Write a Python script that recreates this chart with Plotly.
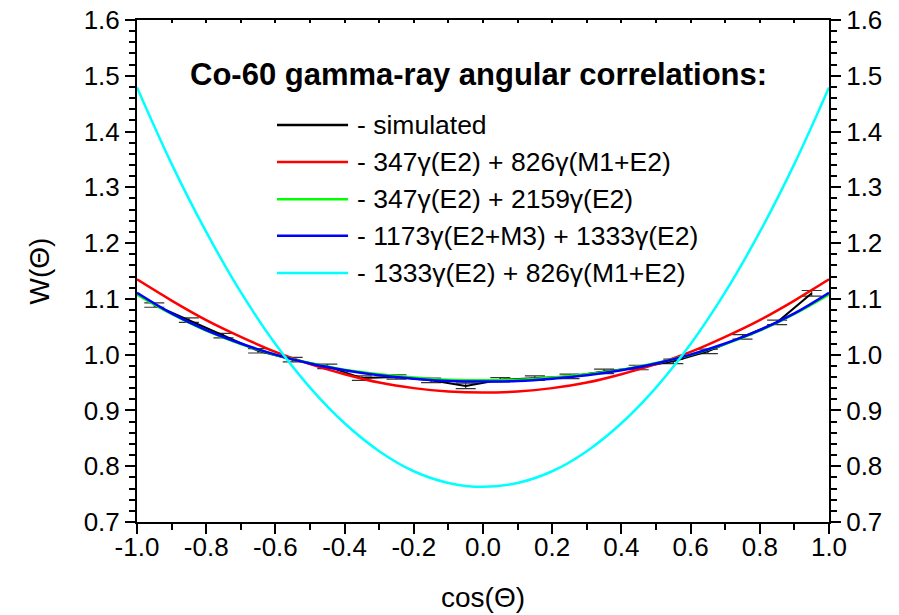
import plotly.graph_objects as go

# ---- data ----
sim_x = [-0.95, -0.85, -0.75, -0.65, -0.55, -0.45, -0.35, -0.25, -0.15, -0.05,
         0.05, 0.15, 0.25, 0.35, 0.45, 0.55, 0.65, 0.75, 0.85, 0.95]
sim_y = [1.089, 1.062, 1.034, 1.007, 0.991, 0.979, 0.958, 0.960, 0.954, 0.944,
         0.955, 0.958, 0.961, 0.970, 0.977, 0.988, 1.006, 1.032, 1.058, 1.110]
sim_err = [0.004, 0.004, 0.004, 0.004, 0.004, 0.004, 0.004, 0.004, 0.004, 0.005,
           0.004, 0.004, 0.004, 0.004, 0.004, 0.004, 0.004, 0.004, 0.004, 0.005]

curve_x = [-1.0, -0.9, -0.8, -0.7, -0.6, -0.5, -0.4, -0.3, -0.2, -0.1, 0.0,
           0.1, 0.2, 0.3, 0.4, 0.5, 0.6, 0.7, 0.8, 0.9, 1.0]
red_y = [1.135, 1.097, 1.062, 1.032, 1.005, 0.983, 0.965, 0.950, 0.940, 0.934, 0.932,
         0.934, 0.940, 0.950, 0.965, 0.983, 1.005, 1.032, 1.062, 1.097, 1.135]
green_y = [1.108, 1.073, 1.043, 1.019, 1.000, 0.985, 0.973, 0.965, 0.959, 0.955, 0.954,
           0.955, 0.959, 0.965, 0.973, 0.985, 1.000, 1.019, 1.043, 1.073, 1.108]
blue_y = [1.111, 1.074, 1.044, 1.020, 1.000, 0.984, 0.972, 0.963, 0.957, 0.953, 0.952,
          0.953, 0.957, 0.963, 0.972, 0.984, 1.000, 1.020, 1.044, 1.074, 1.111]
cyan_y = [1.479, 1.342, 1.220, 1.112, 1.019, 0.941, 0.877, 0.827, 0.791, 0.770, 0.763,
          0.770, 0.791, 0.827, 0.877, 0.941, 1.019, 1.112, 1.220, 1.342, 1.479]

legend_labels = ["- simulated",
                 "- 347\u03b3(E2) + 826\u03b3(M1+E2)",
                 "- 347\u03b3(E2) + 2159\u03b3(E2)",
                 "- 1173\u03b3(E2+M3) + 1333\u03b3(E2)",
                 "- 1333\u03b3(E2) + 826\u03b3(M1+E2)"]
legend_colors = ["#000000", "#ff0000", "#00ff00", "#0000ff", "#00ffff"]

x_tickvals = [-1.0, -0.8, -0.6, -0.4, -0.2, 0.0, 0.2, 0.4, 0.6, 0.8, 1.0]
x_ticktext = ["-1.0", "-0.8", "-0.6", "-0.4", "-0.2", "0.0", "0.2", "0.4", "0.6", "0.8", "1.0"]
y_tickvals = [0.7, 0.8, 0.9, 1.0, 1.1, 1.2, 1.3, 1.4, 1.5, 1.6]
y_ticktext = ["0.7", "0.8", "0.9", "1.0", "1.1", "1.2", "1.3", "1.4", "1.5", "1.6"]

FONT = "Liberation Sans, Arial, sans-serif"

fig = go.Figure()

fig.add_trace(go.Scatter(x=sim_x, y=sim_y, mode="lines",
                         line=dict(color="black", width=2),
                         error_y=dict(type="data", array=sim_err, visible=True,
                                      color="#333333", thickness=1.2, width=10),
                         showlegend=False))
for yv, col in [(red_y, "#ff0000"), (green_y, "#00ff00"), (blue_y, "#0000ff"), (cyan_y, "#00ffff")]:
    fig.add_trace(go.Scatter(x=curve_x, y=yv, mode="lines",
                             line=dict(color=col, width=2.5, shape="spline"),
                             showlegend=False))

# invisible trace for secondary axes
fig.add_trace(go.Scatter(x=[None], y=[None], xaxis="x2", yaxis="y2", showlegend=False))

axis_common = dict(showline=True, linecolor="black", linewidth=2, mirror=False,
                   showgrid=False, zeroline=False, automargin=False)

TICK = 26

fig.update_layout(
    width=899, height=615,
    margin=dict(l=137, r=70, t=20, b=93),
    paper_bgcolor="white", plot_bgcolor="white",
    font=dict(family=FONT, size=TICK, color="black"),
    xaxis=dict(range=[-1, 1], tickvals=x_tickvals, ticktext=x_ticktext,
               ticks="outside", ticklen=10, tickwidth=2, tickcolor="black",
               minor=dict(dtick=0.1, ticks="outside", ticklen=6, tickwidth=2, tickcolor="black"),
               ticklabelstandoff=-9,
               title=dict(text="cos(\u0398)", font=dict(size=28), standoff=26),
               tickfont=dict(size=TICK), **axis_common),
    xaxis2=dict(range=[-1, 1], overlaying="x", side="top", tickvals=[-0.9 + 0.1 * i for i in range(19)],
                showticklabels=False, ticks="inside", ticklen=3, tickwidth=2, tickcolor="black",
                **axis_common),
    yaxis=dict(range=[0.7, 1.6], tickvals=y_tickvals, ticktext=y_ticktext,
               ticks="outside", ticklen=10, tickwidth=2, tickcolor="black",
               minor=dict(dtick=0.02, ticks="outside", ticklen=6, tickwidth=2, tickcolor="black"),
               title=dict(text="W(\u0398)", font=dict(size=28), standoff=26),
               tickfont=dict(size=TICK), **axis_common),
    yaxis2=dict(range=[0.7, 1.6], overlaying="y", side="right", anchor="x",
                tickvals=y_tickvals, ticktext=y_ticktext,
                ticks="outside", ticklen=10, tickwidth=2, tickcolor="black",
                minor=dict(dtick=0.02, ticks="outside", ticklen=6, tickwidth=2, tickcolor="black"),
                tickfont=dict(size=TICK), **axis_common),
)

# title annotation
fig.add_annotation(x=0.493, y=0.892, xref="paper", yref="paper", showarrow=False,
                   text="<b>Co-60 gamma-ray angular correlations:</b>",
                   font=dict(family=FONT, size=31, color="black"),
                   xanchor="center", yanchor="middle")

# custom legend
row_y = [0.791, 0.717, 0.643, 0.570, 0.496]
for lab, col, ry in zip(legend_labels, legend_colors, row_y):
    fig.add_shape(type="line", xref="paper", yref="paper", x0=0.2023, x1=0.305, y0=ry, y1=ry,
                  line=dict(color=col, width=2.5))
    fig.add_annotation(x=0.315, y=ry, xref="paper", yref="paper", showarrow=False,
                       text=lab, font=dict(family=FONT, size=26.5, color="black"),
                       xanchor="left", yanchor="middle")

fig.write_html("out.html")
